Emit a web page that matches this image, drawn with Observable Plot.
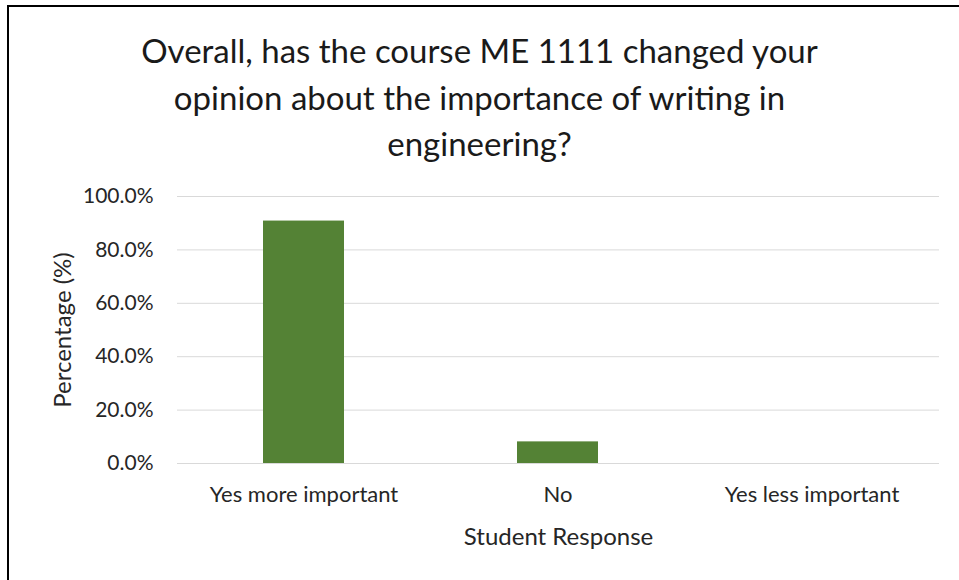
<!DOCTYPE html>
<html>
<head>
<meta charset="utf-8">
<script src="https://cdn.jsdelivr.net/npm/d3@7"></script>
<script src="https://cdn.jsdelivr.net/npm/@observablehq/plot@0.6"></script>
<style>
  html, body { margin: 0; padding: 0; background: #fff; }
  #chart { position: relative; width: 959px; height: 580px; overflow: hidden; font-family: Lato, "Open Sans", sans-serif; }
  .bt { position: absolute; left: 7px; top: 5px; width: 952px; height: 2px; background: #000; }
  .bl { position: absolute; left: 7px; top: 5px; width: 2px; height: 575px; background: #000; }
  #title { position: absolute; left: 0; top: 27px; width: 959px; text-align: center; font-size: 33px; line-height: 46.5px; color: #1a1a1a; }
  #plot { position: absolute; left: 0; top: 180px; }
</style>
</head>
<body>
<div id="chart">
  <div class="bt"></div>
  <div class="bl"></div>
  <div id="title">Overall, has the course ME 1111 changed your<br>opinion about the importance of writing in<br>engineering?</div>
  <div id="plot"></div>
</div>
<script>
const categories = ["Yes more important", "No", "Yes less important"];
const percentages = [90.8, 8.1, 0];
const yTicks = [0, 20, 40, 60, 80, 100];
const xTitle = "Student Response";
const yTitle = "Percentage (%)";

const data = categories.map((c, i) => ({category: c, value: percentages[i]}));

const W = 959, H = 380;
const chart = Plot.plot({
  width: W,
  height: H,
  marginLeft: 177,
  marginRight: 20,
  marginTop: 16,
  marginBottom: 97,
  style: { fontFamily: "Lato, 'Open Sans', sans-serif", fontSize: "21px", color: "#262626", background: "transparent" },
  x: { domain: categories, paddingInner: 0.68, paddingOuter: 0.34, label: null },
  y: { domain: [0, 100], label: null },
  marks: [
    Plot.ruleY(yTicks, { stroke: "#d9d9d9", strokeWidth: 1 }),
    Plot.barY(data, { x: "category", y: "value", fill: "#548235" }),
    Plot.axisY({ ticks: yTicks, tickSize: 0, tickPadding: 24, tickFormat: d => d.toFixed(1) + "%", label: null, fill: "#262626", fontSize: 21 }),
    Plot.axisX({ tickSize: 0, tickPadding: 23, label: null, fill: "#262626", fontSize: 22 }),
    Plot.text([xTitle], { frameAnchor: "bottom", lineAnchor: "middle", dy: 74, text: d => d, fontSize: 24, fill: "#262626" }),
    Plot.text([yTitle], { frameAnchor: "left", textAnchor: "middle", lineAnchor: "middle", dx: -114, rotate: -90, text: d => d, fontSize: 24, fill: "#262626" })
  ]
});
document.getElementById("plot").appendChild(chart);
</script>
</body>
</html>
